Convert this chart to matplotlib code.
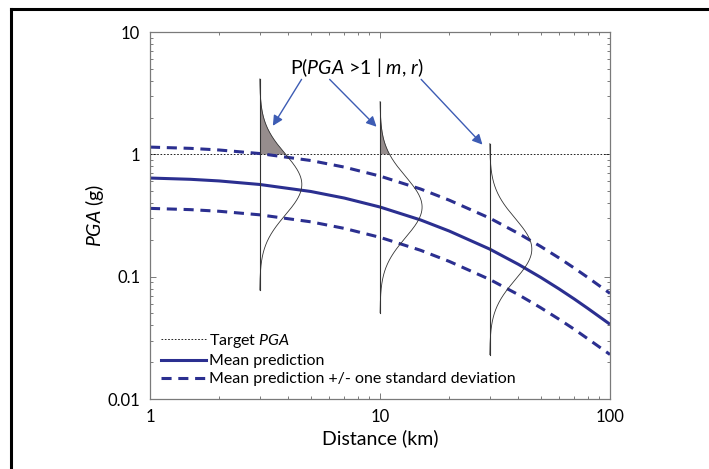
import numpy as np
import matplotlib
matplotlib.use("Agg")
import matplotlib.pyplot as plt
from matplotlib.lines import Line2D

# ---------------- data ----------------
distance = [1, 1.5, 2, 3, 5, 7, 10, 15, 20, 30, 40, 50, 60, 70, 80, 100]
mean_pga = [0.640, 0.625, 0.606, 0.567, 0.497, 0.439, 0.371, 0.291, 0.236,
            0.168, 0.126, 0.0986, 0.0795, 0.0656, 0.0551, 0.0408]
upper_pga = [1.146, 1.119, 1.085, 1.015, 0.890, 0.786, 0.664, 0.521, 0.422,
             0.301, 0.2255, 0.1765, 0.1423, 0.1174, 0.0986, 0.0730]
lower_pga = [0.3616, 0.3531, 0.3424, 0.3203, 0.2808, 0.2480, 0.2096, 0.1644, 0.1333,
             0.0949, 0.0712, 0.0557, 0.0449, 0.0371, 0.0311, 0.0231]

pdf_distances = [3, 10, 30]
pdf_means = [0.567, 0.371, 0.168]
sigma_log10 = 0.25
target_pga = 1.0

x_ticks = [1, 10, 100]
x_tick_labels = ["1", "10", "100"]
y_ticks = [0.01, 0.1, 1, 10]
y_tick_labels = ["0.01", "0.1", "1", "10"]

annot_text = r"P($\mathit{PGA}$ >1 | $\mathit{m}$, $\mathit{r}$)"
legend_labels = [r"Target $\mathit{PGA}$", "Mean prediction",
                 "Mean prediction +/- one standard deviation"]

# ---------------- style ----------------
FONT = "Lato"
plt.rcParams["font.family"] = [FONT, "DejaVu Sans"]
plt.rcParams["mathtext.fontset"] = "custom"
plt.rcParams["mathtext.rm"] = FONT
plt.rcParams["mathtext.it"] = FONT + ":italic"

NAVY = "#2b2f90"
ARROW = "#3d5cb4"
FILL = "#968d8d"
SPINE = "#7a7a7a"

fig = plt.figure(figsize=(7.09, 4.69), dpi=100)
fig.patch.set_facecolor("white")
ax = fig.add_axes([150 / 709, 1 - 399 / 469, 460 / 709, 367 / 469])

ax.set_xscale("log")
ax.set_yscale("log")
ax.set_xlim(1, 100)
ax.set_ylim(0.01, 10)

# target line
ax.axhline(target_pga, color="black", lw=0.6, ls=(0, (2, 2)))

# curves
ax.plot(distance, mean_pga, color=NAVY, lw=2.2, solid_capstyle="butt")
ax.plot(distance, upper_pga, color=NAVY, lw=2.2, ls=(0, (3.3, 2.2)))
ax.plot(distance, lower_pga, color=NAVY, lw=2.2, ls=(0, (3.3, 2.2)))

# PDFs
z = np.linspace(-3.45, 3.45, 400)
for r, mu in zip(pdf_distances, pdf_means):
    ly = np.log10(mu) + z * sigma_log10
    lx = np.log10(r) + 0.183 * np.exp(-z ** 2 / 2)
    yy = 10 ** ly
    xx = 10 ** lx
    ax.plot([r, r], [yy[0], yy[-1]], color="#333333", lw=0.8)
    ax.plot(xx, yy, color="#333333", lw=0.6)
    m = yy >= target_pga
    ax.fill_betweenx(yy[m], r, xx[m], color=FILL, lw=0)

# annotation & arrows
ax.text(7.9, 5.15, annot_text, ha="center", va="center", fontsize=14)
arrow_tails = [(4.56, 4.1), (6.04, 4.1), (15.1, 4.1)]
arrow_heads = [(3.42, 1.71), (9.66, 1.68), (27.9, 1.2)]
for (tx, ty), (hx, hy) in zip(arrow_tails, arrow_heads):
    ax.annotate("", xy=(hx, hy), xytext=(tx, ty),
                arrowprops=dict(arrowstyle="-|>", color=ARROW, lw=1.0,
                                mutation_scale=15, shrinkA=0, shrinkB=0))

# axes styling
ax.set_xticks(x_ticks)
ax.set_xticklabels(x_tick_labels)
ax.set_yticks(y_ticks)
ax.set_yticklabels(y_tick_labels)
ax.tick_params(which="both", direction="in", top=True, right=True,
               color=SPINE, width=0.7, labelsize=12)
ax.tick_params(which="major", length=4, pad=7)
ax.tick_params(which="minor", length=2)
for s in ax.spines.values():
    s.set_color(SPINE)
    s.set_linewidth(0.9)

ax.set_xlabel("Distance (km)", fontsize=14, labelpad=3)
ax.set_ylabel(r"$\mathit{PGA}$ (g)", fontsize=14)
ax.yaxis.set_label_coords(-0.095, 0.5)

# legend
handles = [
    Line2D([], [], color="black", lw=0.6, ls=(0, (2, 2))),
    Line2D([], [], color=NAVY, lw=2.2),
    Line2D([], [], color=NAVY, lw=2.2, ls=(0, (3.3, 2.2))),
]
ax.legend(handles, legend_labels, loc="lower left", bbox_to_anchor=(0.0, 0.004),
          frameon=False, fontsize=11.5, handlelength=2.8, handletextpad=0.2,
          labelspacing=0.25, borderaxespad=0.3)

# frame lines around the picture (top and left)
fig.add_artist(Line2D([11 / 709, 11 / 709], [0, 1 - 9 / 469], color="black", lw=2.2,
                      transform=fig.transFigure))
fig.add_artist(Line2D([11 / 709, 1], [1 - 9 / 469, 1 - 9 / 469], color="black", lw=2.2,
                      transform=fig.transFigure))

fig.savefig("out.png", dpi=100)
